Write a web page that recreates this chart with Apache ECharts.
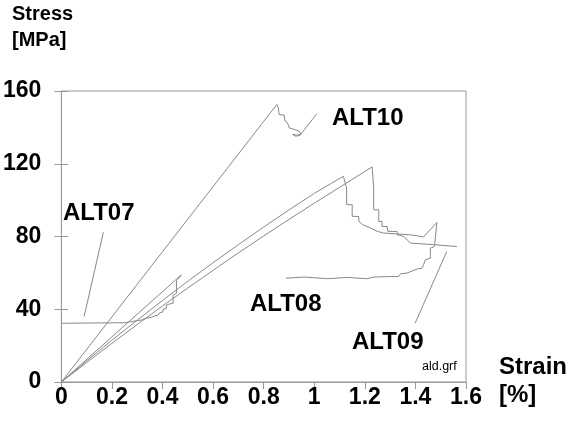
<!DOCTYPE html>
<html>
<head>
<meta charset="utf-8">
<script src="https://cdn.jsdelivr.net/npm/echarts@6/dist/echarts.min.js"></script>
<style>
html,body{margin:0;padding:0;background:#fff;}
#main{width:569px;height:421px;}
</style>
</head>
<body>
<div id="main"></div>
<script>
// axis ticks
var xTicks = [0, 0.2, 0.4, 0.6, 0.8, 1, 1.2, 1.4, 1.6];
var yTicks = [0, 40, 80, 120, 160];

// strain [%], stress [MPa]
var alt07 = [[0,0],[0.474,58.9],[0.468,57.6],[0.455,56.1],[0.455,48.8],[0.442,47.8],[0.442,43.3],
	[0.428,42.9],[0.415,42.3],[0.415,40.5],[0.402,40.0],[0.402,38.6],[0.389,38.1],[0.383,36.8],
	[0.369,36.3],[0.356,35.6],[0.337,35.0],[0.317,34.1],[0.25,32.6],[0,32.3]];

var alt08 = [[0,0],[0.1,11.6],[0.2,23.0],[0.3,34.0],[0.4,44.8],[0.5,55.4],[0.6,65.6],[0.7,75.5],
	[0.8,85.2],[0.9,94.6],[1.0,103.7],[1.115,113.1],[1.128,106.7],[1.128,97.5],[1.150,97.5],
	[1.150,91.1],[1.176,91.0],[1.176,88.3],[1.192,86.5],[1.222,84.7],[1.249,82.8],[1.275,81.9],
	[1.33,81.4],[1.38,80.9],[1.406,80.4],[1.432,79.7],[1.485,87.7],[1.476,75.5],[1.472,74.2],
	[1.459,73.6],[1.459,68.1],[1.439,67.2],[1.432,64.4],[1.426,62.6],[1.406,62.1],[1.400,61.3],
	[1.367,59.9],[1.341,59.5],[1.334,58.0],[1.301,58.0],[1.235,57.7],[1.209,56.8],[1.131,57.5],
	[1.052,56.8],[0.96,57.7],[0.888,57.1]];

var alt09 = [[0,0],[0.1,10.7],[0.2,21.3],[0.3,31.6],[0.4,41.8],[0.5,51.7],[0.6,61.4],[0.7,71.0],
	[0.8,80.3],[0.9,89.4],[1.0,98.3],[1.1,107.0],[1.229,118.3],[1.235,106.7],[1.235,94.7],
	[1.255,94.7],[1.255,88.3],[1.268,88.3],[1.268,85.5],[1.288,85.5],[1.291,82.8],[1.328,82.8],
	[1.328,81.0],[1.354,80.0],[1.367,78.2],[1.380,76.4],[1.472,75.5],[1.564,74.5]];

var alt10 = [[0,0],[0.852,152.6],[0.858,150.8],[0.861,147.1],[0.881,146.7],[0.884,143.4],
	[0.894,142.5],[0.901,139.7],[0.914,139.2],[0.920,138.3],[0.940,137.9],[0.947,136.4],
	[0.934,135.7],[0.914,136.1],[0.927,135.1],[0.944,135.7],[1.010,147.5]];

// label pointer lines
var ptr07 = [[0.166,82.3],[0.090,36.0]];
var ptr09 = [[1.524,71.8],[1.399,32.4]];

var names = ['ALT07', 'ALT08', 'ALT09', 'ALT10'];

var boldFont = '"Liberation Sans", Arial, sans-serif';
var curveColor = '#888';
var boxColor = '#999';

var myChart = echarts.init(document.getElementById('main'));

function curve(name, data) {
	return {
		name: name,
		type: 'line',
		data: data,
		showSymbol: false,
		symbol: 'none',
		smooth: false,
		lineStyle: { color: curveColor, width: 1 },
		silent: true
	};
}

function label(text, x, y, size) {
	return {
		type: 'text',
		x: x,
		y: y,
		style: {
			text: text,
			font: 'bold ' + size + 'px ' + boldFont,
			fill: '#000',
			textAlign: 'left',
			align: 'left',
			textVerticalAlign: 'middle',
			verticalAlign: 'middle'
		}
	};
}

var option = {
	animation: false,
	backgroundColor: '#fff',
	grid: {
		left: 59, right: 103, top: 91, bottom: 39,
		show: true, borderColor: boxColor, borderWidth: 1
	},
	xAxis: {
		type: 'value',
		min: xTicks[0], max: xTicks[xTicks.length - 1], interval: 0.2,
		axisLine: { show: true, lineStyle: { color: boxColor, width: 1 } },
		axisTick: { show: true, length: 7, lineStyle: { color: boxColor } },
		splitLine: { show: false },
		axisLabel: {
			margin: 4,
			color: '#000',
			fontFamily: boldFont,
			fontWeight: 'bold',
			fontSize: 23,
			showMinLabel: true,
			showMaxLabel: true
		}
	},
	yAxis: [{
		type: 'value',
		min: yTicks[0], max: yTicks[yTicks.length - 1], interval: 40,
		axisLine: { show: true, lineStyle: { color: boxColor, width: 1 } },
		axisTick: { show: true, length: 7, lineStyle: { color: boxColor } },
		splitLine: { show: false },
		axisLabel: {
			margin: 20,
			color: '#000',
			fontFamily: boldFont,
			fontWeight: 'bold',
			fontSize: 23
		}
	}, {
		type: 'value',
		position: 'left',
		min: yTicks[0], max: yTicks[yTicks.length - 1], interval: 40,
		axisLine: { show: false },
		axisTick: { show: true, inside: true, length: 7, lineStyle: { color: boxColor } },
		splitLine: { show: false },
		axisLabel: { show: false }
	}],
	series: [
		curve(names[0], alt07),
		curve(names[1], alt08),
		curve(names[2], alt09),
		curve(names[3], alt10),
		curve('ptr07', ptr07),
		curve('ptr09', ptr09)
	],
	graphic: [
		label('Stress', 12, 14, 20),
		label('[MPa]', 12, 40, 20),
		label('Strain', 499, 367, 24),
		label('[%]', 499, 395, 24),
		label(names[3], 332, 118, 24),
		label(names[0], 63, 213, 24),
		label(names[1], 250, 304, 24),
		label(names[2], 352, 342, 24),
		{
			type: 'text',
			x: 422, y: 367,
			style: {
				text: 'ald.grf',
				font: '12.5px ' + boldFont,
				fill: '#000',
				textVerticalAlign: 'middle',
				verticalAlign: 'middle'
			}
		}
	]
};

myChart.setOption(option);
</script>
</body>
</html>
